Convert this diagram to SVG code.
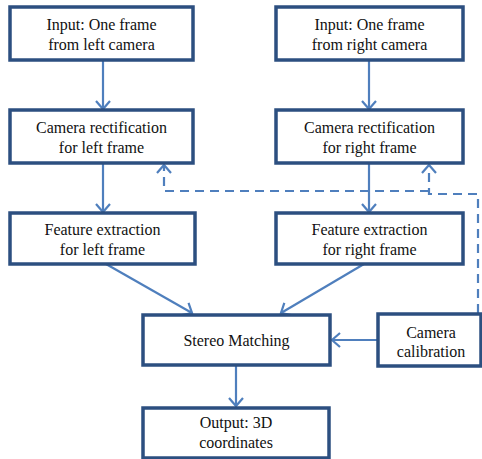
<svg xmlns="http://www.w3.org/2000/svg" width="482" height="459" viewBox="0 0 482 459">
<defs>
<style>
.box{fill:#fff;stroke:#2c4f80;stroke-width:3.5}
.t{font-family:'Liberation Serif','Times New Roman',serif;font-size:16px;fill:#111;text-anchor:middle}
.c{fill:none;stroke:#4f7fbd;stroke-width:2.2}
.d{fill:none;stroke:#4f7fbd;stroke-width:2.2;stroke-dasharray:9 6}
</style>
<marker id="ah" markerUnits="userSpaceOnUse" markerWidth="20" markerHeight="20" refX="12" refY="10" orient="auto">
<path d="M4,3 L12,10 L4,17" fill="none" stroke="#4f7fbd" stroke-width="2.2"/>
</marker>
</defs>
<rect width="482" height="459" fill="#fff"/>
<g id="connectors">
<line class="c" x1="103" y1="60" x2="103" y2="109" marker-end="url(#ah)"/>
<line class="c" x1="369" y1="60" x2="369" y2="109" marker-end="url(#ah)"/>
<line class="c" x1="103" y1="163" x2="103" y2="212" marker-end="url(#ah)"/>
<line class="c" x1="369" y1="163" x2="369" y2="212" marker-end="url(#ah)"/>
<line class="c" x1="106" y1="264" x2="192" y2="313" marker-end="url(#ah)"/>
<line class="c" x1="364" y1="264" x2="281" y2="313" marker-end="url(#ah)"/>
<line class="c" x1="377" y1="340" x2="332" y2="340" marker-end="url(#ah)"/>
<line class="c" x1="236" y1="365" x2="236" y2="406" marker-end="url(#ah)"/>
<path class="d" d="M478,313 V194 H429 V165" marker-end="url(#ah)"/>
<path class="d" d="M429,191 H164 V165" marker-end="url(#ah)"/>
</g>
<g id="input-left">
<rect class="box" x="10" y="7" width="183" height="53"/>
<text class="t" x="101.5" y="30">Input: One frame</text>
<text class="t" x="101.5" y="50">from left camera</text>
</g>
<g id="input-right">
<rect class="box" x="276" y="7" width="187" height="53"/>
<text class="t" x="369.5" y="30">Input: One frame</text>
<text class="t" x="369.5" y="50">from right  camera</text>
</g>
<g id="rect-left">
<rect class="box" x="10" y="110" width="183" height="53"/>
<text class="t" x="101.5" y="133">Camera rectification</text>
<text class="t" x="101.5" y="153">for left frame</text>
</g>
<g id="rect-right">
<rect class="box" x="276" y="110" width="187" height="53"/>
<text class="t" x="369.5" y="133">Camera rectification</text>
<text class="t" x="369.5" y="153">for right  frame</text>
</g>
<g id="feat-left">
<rect class="box" x="10" y="213" width="185" height="51"/>
<text class="t" x="102.5" y="235">Feature extraction</text>
<text class="t" x="102.5" y="255">for left frame</text>
</g>
<g id="feat-right">
<rect class="box" x="276" y="213" width="187" height="51"/>
<text class="t" x="369.5" y="235">Feature extraction</text>
<text class="t" x="369.5" y="255">for right  frame</text>
</g>
<g id="stereo">
<rect class="box" x="143" y="315" width="187" height="50"/>
<text class="t" x="236.5" y="346">Stereo Matching</text>
</g>
<g id="calib">
<rect class="box" x="378" y="314" width="103" height="52"/>
<text class="t" x="431" y="338">Camera</text>
<text class="t" x="431" y="357">calibration</text>
</g>
<g id="output">
<rect class="box" x="143" y="408" width="186" height="50"/>
<text class="t" x="236" y="428">Output: 3D</text>
<text class="t" x="236" y="448">coordinates</text>
</g>
</svg>
